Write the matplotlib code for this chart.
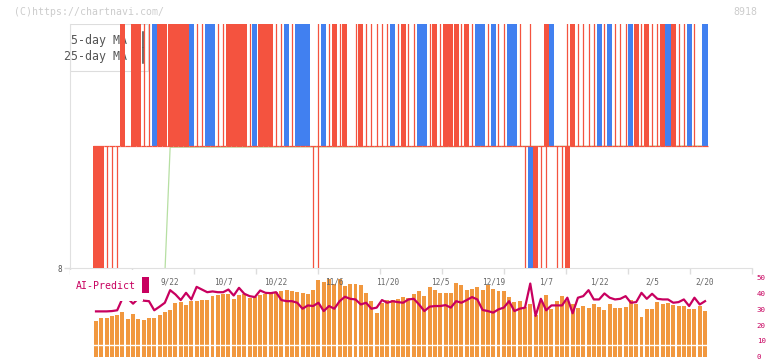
import numpy as np
import matplotlib.pyplot as plt
from matplotlib.patches import Rectangle

plt.rcParams['font.family'] = ['DejaVu Sans Mono']

# lower panel: orange bars and AI-Predict line (right axis 0-50)
vol = [22.6, 24.3, 24.3, 25.6, 26.2, 28.3, 23.7, 26.8, 23.7, 23.0,
       24.3, 24.3, 26.2, 28.5, 29.4, 34.2, 34.6, 32.5, 35.2, 35.2,
       35.7, 35.7, 38.8, 39.0, 39.9, 39.5, 36.7, 39.3, 39.5, 37.4,
       37.6, 39.3, 39.5, 40.3, 40.9, 41.5, 42.4, 41.5, 40.9, 40.5,
       39.6, 42.6, 48.9, 47.5, 49.4, 46.4, 49.6, 45.1, 46.0, 46.0,
       45.3, 40.5, 35.2, 27.9, 34.2, 35.9, 35.9, 36.7, 37.8, 37.4,
       39.5, 41.5, 38.4, 44.1, 42.0, 40.3, 40.3, 40.3, 47.0, 45.3,
       42.6, 43.2, 44.1, 42.6, 45.3, 43.2, 41.5, 41.4, 37.6, 34.4,
       35.2, 31.4, 33.1, 26.4, 34.4, 39.3, 30.0, 35.0, 38.8, 35.5,
       33.3, 31.1, 31.9, 30.6, 33.1, 31.3, 29.4, 33.1, 30.6, 30.6,
       31.3, 35.7, 33.1, 25.4, 30.0, 30.0, 34.4, 33.6, 34.0, 33.0,
       31.9, 31.9, 30.0, 30.0, 31.9, 28.9]

ai_predict = [28.7, 28.7, 28.7, 28.9, 29.4, 37.0, 37.0, 33.6, 37.0, 35.5,
              35.2, 29.4, 31.7, 34.2, 42.2, 39.5, 35.9, 40.5, 36.3, 44.3,
              42.6, 40.9, 41.4, 40.9, 40.9, 42.6, 38.8, 43.7, 39.9, 38.4,
              37.8, 42.0, 40.5, 40.3, 40.9, 35.9, 35.2, 35.2, 34.2, 30.4,
              32.5, 32.1, 34.2, 28.9, 32.1, 30.4, 35.2, 38.0, 36.7, 36.3,
              33.1, 34.2, 30.4, 31.1, 35.9, 34.2, 35.2, 34.6, 34.2, 36.3,
              36.7, 33.1, 28.9, 31.7, 32.1, 32.1, 32.7, 31.1, 35.2, 34.2,
              35.9, 37.8, 36.3, 29.6, 28.9, 27.9, 30.0, 31.1, 35.2, 28.9,
              30.4, 31.1, 46.4, 25.8, 36.7, 29.4, 32.5, 32.5, 32.5, 37.4,
              27.5, 37.4, 38.4, 42.2, 36.3, 36.3, 40.1, 37.4, 36.3, 36.7,
              38.4, 34.2, 34.6, 40.5, 36.7, 39.9, 36.7, 36.3, 36.3, 34.2,
              34.6, 36.3, 32.1, 37.4, 33.1, 35.2]

date_labels = ['9/22', '10/7', '10/22', '11/6', '11/20', '12/5',
               '12/19', '1/7', '1/22', '2/5', '2/20']
label_idx = [14, 24, 34, 45, 55, 65, 75, 85, 95, 105, 115]
right_ticks = [0, 10, 20, 30, 40, 50]

# upper panel candles (clipped): part above / below the centre line
# R/B = filled red/blue body, | = thin red candle, . = nothing
top_kind = ("....." "R.RR||BRRRRRRB|" "|BB||RRRR|" "BRRR||B|BB" "B.|B|R|R.|"
            "R|||||B|R|" "|BB|R|RRR|" "R|BB|B||BB" "|.|..RB..|" "R||||B|B||"
            "|BR|R||RBR" "||B|.B")
bot_kind = ("RR|||....." ".........." ".........." ".........."
            ".||......." ".........." ".........." ".........."
            ".|BR||.||R" ".........." ".........." "......")
ma25_x = [13, 14, 115]
ma25_y = [-0.05, 0.99, 1.0]

RED = '#f4533f'
BLUE = '#4180f0'
MAG = '#c8005f'
ORANGE = '#f1983f'

n = len(vol)
xs = np.arange(n)

fig = plt.figure(figsize=(7.72, 3.61), dpi=100)
ax = fig.add_axes([70/772, 1-268/361, 682/772, 244/361])
ax2 = fig.add_axes([70/772, 1-356.5/361, 682/772, 78.6/361])
xlim = ((70-96)/5.296, (752-96)/5.296)


def candle(axis, i, k, y0):
    if k == 'R' or k == 'B':
        axis.add_patch(Rectangle((i-0.48, y0), 0.96, 2, color=RED if k == 'R' else BLUE,
                                 lw=0, zorder=3))
    elif k == '|':
        axis.vlines(i, y0, y0+2, color=RED, lw=0.9, zorder=3)


# ---- upper panel
ax.set_xlim(*xlim)
ax.set_ylim(0, 2)
for i, k in enumerate(top_kind):
    candle(ax, i, k, 1)
for i, k in enumerate(bot_kind):
    candle(ax, i, k, -1)
ax.hlines(np.ones(n), xs-0.5, xs+0.5, color=RED, lw=0.9, zorder=4)
ax.plot(ma25_x, ma25_y, color='#b6dfa2', lw=0.9, zorder=2)

# legend box sits underneath the candles
ax.add_patch(Rectangle((0, (268-71)/244), 78/682, 47/244, transform=ax.transAxes,
                       facecolor='white', edgecolor='#dddddd', lw=0.8, zorder=1))
ax.text(57/682, (268-40.7)/244, '5-day MA', transform=ax.transAxes, ha='right',
        va='center', fontsize=8.4, color='#555555', zorder=1.5)
ax.text(57/682, (268-56.7)/244, '25-day MA', transform=ax.transAxes, ha='right',
        va='center', fontsize=8.4, color='#555555', zorder=1.5)
ax.plot([72.5/682]*2, [(268-47)/244, (268-31.7)/244], transform=ax.transAxes,
        color='#444444', lw=1.1, zorder=1.6)
ax.plot([72.5/682]*2, [(268-63.3)/244, (268-48)/244], transform=ax.transAxes,
        color='#444444', lw=1.1, zorder=1.6)

for s in ['top', 'right']:
    ax.spines[s].set_visible(False)
for s in ['left', 'bottom']:
    ax.spines[s].set_color('#e0e0e0')
ax.set_xticks(np.linspace(xlim[0], xlim[1], 12))
ax.set_xticklabels([])
ax.set_yticks([0])
ax.set_yticklabels(['8'])
ax.tick_params(axis='both', colors='#dddddd', length=4, width=1, labelsize=5.6,
               labelcolor='#555555', pad=2)

# ---- lower panel
ax2.set_xlim(*xlim)
ax2.set_ylim(0, 50)
ax2.bar(xs, vol, width=0.75, color=ORANGE, zorder=1)
ax2.axhline(7.4, color='white', lw=1, zorder=2)
ax2.plot(xs, ai_predict, color=MAG, lw=1.6, zorder=3)
ax2.add_patch(Rectangle((0, 0.706), 73/682, 0.4, transform=ax2.transAxes,
                        facecolor='white', lw=0, zorder=4, clip_on=False))
ax2.text(6/682, 0.903, 'AI-Predict', transform=ax2.transAxes, ha='left', va='center',
         fontsize=7.1, color=MAG, zorder=5)
ax2.add_patch(Rectangle((72/682, 0.814), 7/682, 0.202, transform=ax2.transAxes,
                        facecolor=MAG, lw=0, zorder=5, clip_on=False))
for lab, i in zip(date_labels, label_idx):
    ax2.text(i, 47.7, lab, ha='center', va='center', fontsize=5.6, color='#666666',
             zorder=5)
for s in ax2.spines.values():
    s.set_visible(False)
ax2.set_xticks([])
ax2.yaxis.tick_right()
ax2.set_yticks(right_ticks)
ax2.tick_params(axis='y', length=0, labelsize=5.4, labelcolor=MAG, pad=3.5)

fig.text(14/772, 1-12/361, '(C)https://chartnavi.com/', ha='left', va='center',
         fontsize=7.1, color='#cccccc')
fig.text(757/772, 1-12/361, '8918', ha='right', va='center', fontsize=7.1,
         color='#cccccc')

fig.savefig('out.png', dpi=100)
